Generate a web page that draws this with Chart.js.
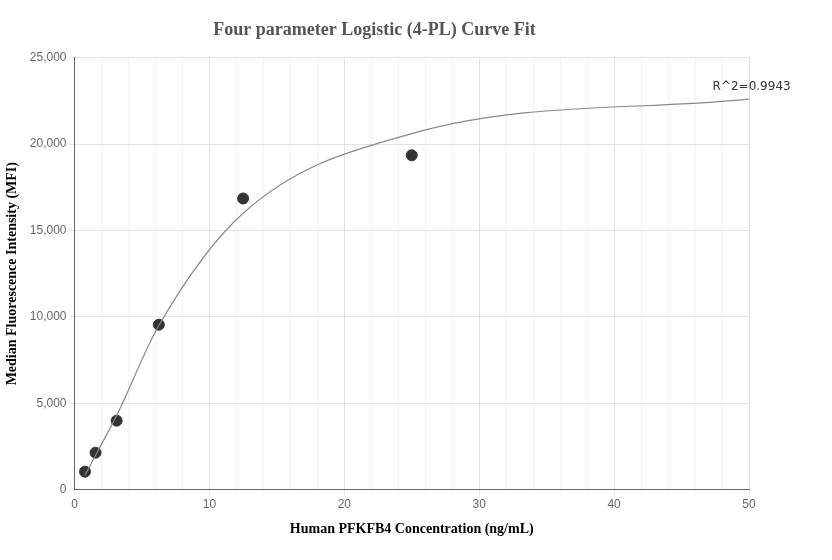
<!DOCTYPE html><html><head><script src="https://cdn.jsdelivr.net/npm/chart.js@4"></script>
<style>body{margin:0;background:#fff}#w{width:832px;height:560px}</style></head><body><div id="w"><canvas id="c"></canvas></div>
<script>
const concX=[0.78,1.56,3.125,6.25,12.5,25];
const mfiY=[1050,2150,4000,9550,16850,19350];
const fitX=[0.78,1.56,3.125,6.25,12.5,25,50];
const fitY=[850,2000,4300,9500,16000,20600,22600];
const xTicks=[0,10,20,30,40,50];
const r2Text='R^2=0.9943';
const r2Plugin={id:'r2',afterDatasetsDraw(ch){const c=ch.ctx,x=ch.scales.x,y=ch.scales.y;c.save();c.font='12px "DejaVu Sans"';c.fillStyle='#333';c.textAlign='left';c.textBaseline='middle';c.fillText(r2Text,x.getPixelForValue(47.3),y.getPixelForValue(23300));c.restore();}};
new Chart(document.getElementById('c'),{type:'scatter',data:{datasets:[
{type:'line',data:fitX.map((v,i)=>({x:v,y:fitY[i]})),borderColor:'#888',borderWidth:1.2,pointRadius:0,cubicInterpolationMode:'monotone',fill:false},
{data:concX.map((v,i)=>({x:v,y:mfiY[i]})),backgroundColor:'#333',borderColor:'#333',pointRadius:5.5}]},
options:{responsive:true,maintainAspectRatio:false,animation:false,layout:{padding:{left:0,right:83,top:5,bottom:18}},
plugins:{legend:{display:false},tooltip:{enabled:false},title:{display:true,text:'Four parameter Logistic (4-PL) Curve Fit',color:'#555',font:{family:'"Liberation Serif"',size:18,weight:'bold'},padding:{top:15,bottom:16}}},
scales:{x:{type:'linear',min:0,max:50,ticks:{stepSize:2,color:'#666',font:{size:12},callback:v=>v%10===0?v:'',autoSkip:false,maxRotation:0},grid:{color:c=>c.tick&&c.tick.value%10===0?'#e2e2e2':'#f2f2f2',tickLength:5},border:{color:'#666'},
title:{display:true,text:'Human PFKFB4 Concentration (ng/mL)',color:'#000',font:{family:'"Liberation Serif"',size:14,weight:'bold'},padding:{top:6}}},
y:{min:0,max:25000,ticks:{stepSize:5000,color:'#666',font:{size:12}},grid:{color:'#e2e2e2',tickLength:5},border:{color:'#666'},
title:{display:true,text:'Median Fluorescence Intensity (MFI)',color:'#000',font:{family:'"Liberation Serif"',size:14,weight:'bold'},padding:{bottom:6}}}}},plugins:[r2Plugin]});
</script></body></html>
